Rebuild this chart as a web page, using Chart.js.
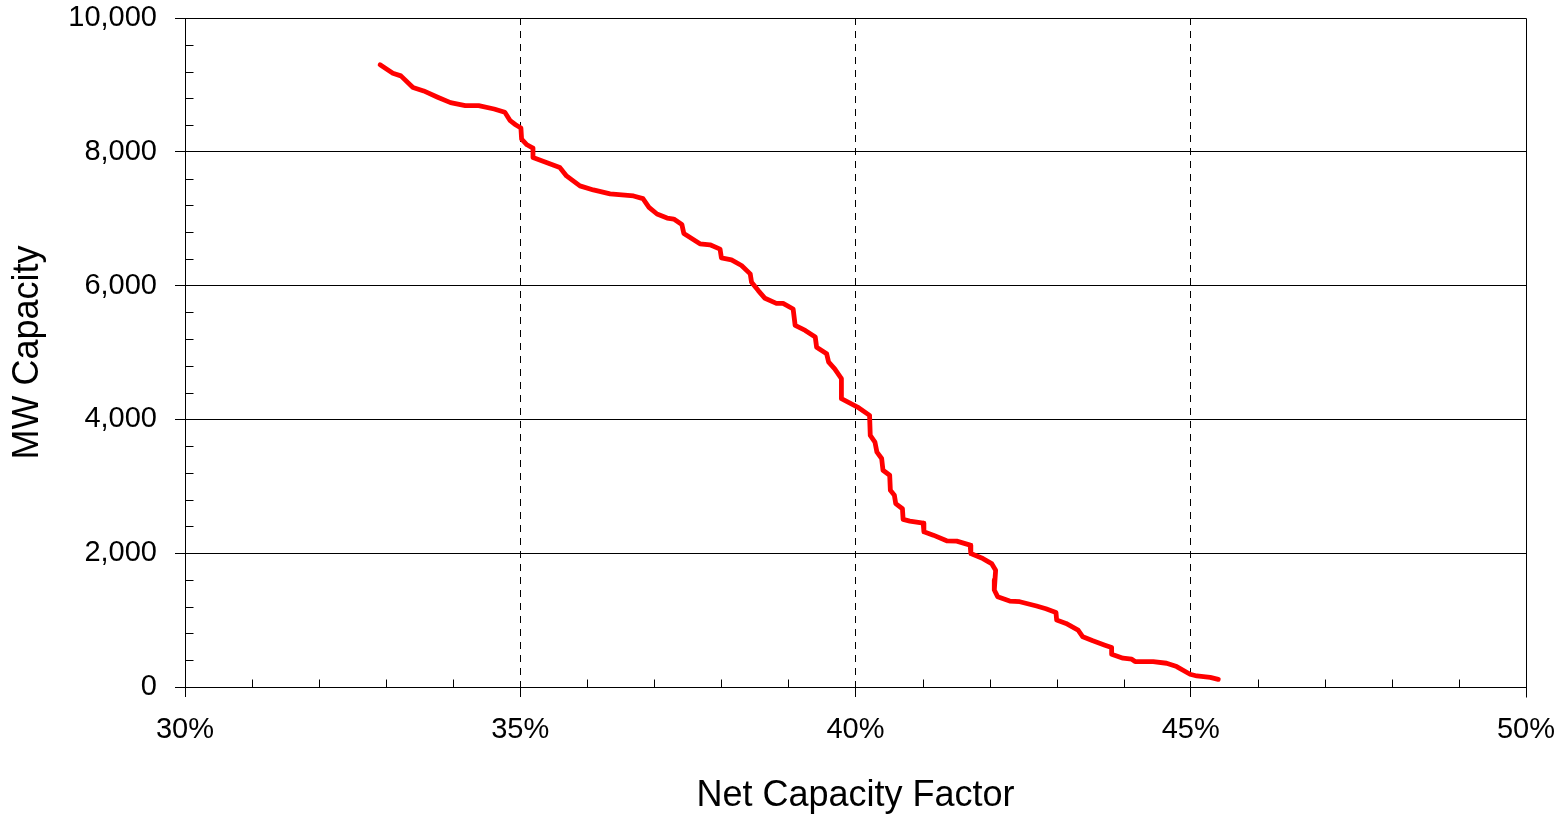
<!DOCTYPE html>
<html>
<head>
<meta charset="utf-8">
<script src="https://cdn.jsdelivr.net/npm/chart.js@4.4.1/dist/chart.umd.min.js"></script>
<style>
    html, body { margin: 0; padding: 0; background: #fff; }
    #wrap { width: 1558px; height: 814px; position: relative; }
</style>
</head>
<body>
<div id="wrap"><canvas id="capacityChart"></canvas></div>
<script>
// Net capacity factor (%) and cumulative MW capacity
const capacityFactor = [
    32.91, 33.10, 33.22, 33.40, 33.56, 33.76, 33.96, 34.18, 34.38, 34.61,
    34.77, 34.85, 34.93, 35.01, 35.02, 35.10, 35.19, 35.19, 35.39, 35.59,
    35.69, 35.89, 36.09, 36.34, 36.69, 36.83, 36.92, 37.04, 37.19, 37.29,
    37.41, 37.44, 37.68, 37.83, 37.98, 38.00, 38.15, 38.30, 38.43, 38.45,
    38.55, 38.65, 38.82, 38.92, 39.07, 39.10, 39.25, 39.40, 39.42, 39.57,
    39.60, 39.69, 39.79, 39.79, 40.03, 40.21, 40.22, 40.29, 40.32, 40.39,
    40.41, 40.51, 40.52, 40.58, 40.60, 40.70, 40.71, 40.81, 41.01, 41.02,
    41.16, 41.36, 41.51, 41.71, 41.72, 41.90, 42.03, 42.09, 42.08, 42.07,
    42.12, 42.30, 42.45, 42.70, 42.84, 42.99, 43.00, 43.14, 43.32, 43.39,
    43.54, 43.72, 43.82, 43.82, 43.99, 44.12, 44.17, 44.44, 44.64, 44.79,
    44.99, 45.09, 45.29, 45.41
];
const mwCapacity = [
    9300, 9175, 9135, 8960, 8910, 8820, 8735, 8690, 8690, 8640,
    8590, 8465, 8405, 8355, 8190, 8105, 8055, 7915, 7840, 7765,
    7640, 7490, 7430, 7370, 7340, 7300, 7170, 7070, 7010, 6995,
    6915, 6780, 6625, 6610, 6545, 6415, 6385, 6300, 6175, 6050,
    5925, 5810, 5735, 5735, 5650, 5405, 5330, 5230, 5080, 4980,
    4855, 4755, 4610, 4310, 4185, 4060, 3760, 3660, 3510, 3415,
    3240, 3165, 2940, 2865, 2740, 2665, 2505, 2480, 2450, 2320,
    2270, 2185, 2180, 2120, 1995, 1920, 1845, 1745, 1600, 1450,
    1350, 1285, 1275, 1210, 1170, 1115, 1000, 950, 850, 750,
    690, 625, 590, 490, 430, 415, 380, 380, 355, 305,
    190, 165, 145, 115
];
const xTicks = [30, 35, 40, 45, 50];
const yTicks = [0, 2000, 4000, 6000, 8000, 10000];

const FONT = "'Liberation Sans', Arial, sans-serif";

// frame on top/right plus the small inward minor ticks
const framePlugin = {
    id: 'frame',
    beforeDatasetsDraw(chart) {
        const { ctx, chartArea: a, scales } = chart;
        ctx.save();
        ctx.strokeStyle = '#000';
        ctx.lineWidth = 1;
        ctx.beginPath();
        const L = Math.round(a.left) + 0.5, R = Math.round(a.right) + 0.5;
        const T = Math.round(a.top) + 0.5, B = Math.round(a.bottom) + 0.5;
        ctx.moveTo(L, T); ctx.lineTo(R, T);
        ctx.moveTo(R, T); ctx.lineTo(R, B + 10);
        // minor x ticks every 1%
        for (let v = 31; v < 50; v++) {
            if (v % 5 === 0) continue;
            const x = Math.round(scales.x.getPixelForValue(v)) + 0.5;
            ctx.moveTo(x, B); ctx.lineTo(x, B - 8);
        }
        // minor y ticks every 400
        for (let v = 400; v < 10000; v += 400) {
            if (v % 2000 === 0) continue;
            const y = Math.round(scales.y.getPixelForValue(v)) + 0.5;
            ctx.moveTo(L, y); ctx.lineTo(L + 8, y);
        }
        ctx.stroke();
        ctx.restore();
    }
};

const chartCtx = document.getElementById('capacityChart').getContext('2d');
const capacityChart = new Chart(chartCtx, {
    type: 'scatter',
    data: {
        datasets: [{
            data: capacityFactor.map((x, i) => ({ x: x, y: mwCapacity[i] })),
            showLine: true,
            borderColor: '#ff0000',
            borderWidth: 4.8,
            borderJoinStyle: 'round',
            borderCapStyle: 'round',
            pointRadius: 0,
            tension: 0
        }]
    },
    options: {
        responsive: true,
        maintainAspectRatio: false,
        animation: false,
        layout: { padding: { top: 18, right: 32, left: 0, bottom: 0 } },
        plugins: {
            legend: { display: false },
            tooltip: { enabled: false }
        },
        scales: {
            x: {
                type: 'linear',
                min: 30,
                max: 50,
                afterBuildTicks: s => { s.ticks = xTicks.map(v => ({ value: v })); },
                afterFit: s => {
                    s.height = 127;
                    s.paddingLeft = 0;
                    s.paddingRight = 0;
                },
                grid: {
                    color: c => (c.tick && (c.tick.value === 30 || c.tick.value === 50)) ? 'rgba(0,0,0,0)' : '#000',
                    tickColor: '#000',
                    lineWidth: 1,
                    tickLength: 10
                },
                border: { color: '#000', width: 1, dash: [7, 6] },
                ticks: {
                    color: '#000',
                    padding: 16,
                    maxRotation: 0,
                    font: { family: FONT, size: 29 },
                    callback: v => v + '%'
                },
                title: {
                    display: true,
                    text: 'Net Capacity Factor',
                    color: '#000',
                    padding: 0,
                    font: { family: FONT, size: 36, lineHeight: 1 }
                }
            },
            y: {
                type: 'linear',
                min: 0,
                max: 10000,
                afterBuildTicks: s => { s.ticks = yTicks.map(v => ({ value: v })); },
                afterFit: s => {
                    s.width = 185;
                    s.paddingTop = 0;
                    s.paddingBottom = 0;
                },
                grid: {
                    color: '#000',
                    tickColor: '#000',
                    lineWidth: 1,
                    tickLength: 10
                },
                border: { color: '#000', width: 1 },
                ticks: {
                    color: '#000',
                    padding: 18,
                    font: { family: FONT, size: 29 },
                    callback: v => v.toLocaleString('en-US')
                },
                title: {
                    display: true,
                    text: 'MW Capacity',
                    color: '#000',
                    padding: { top: 10, bottom: 0 },
                    font: { family: FONT, size: 36, lineHeight: 1 }
                }
            }
        }
    },
    plugins: [framePlugin]
});
</script>
</body>
</html>
